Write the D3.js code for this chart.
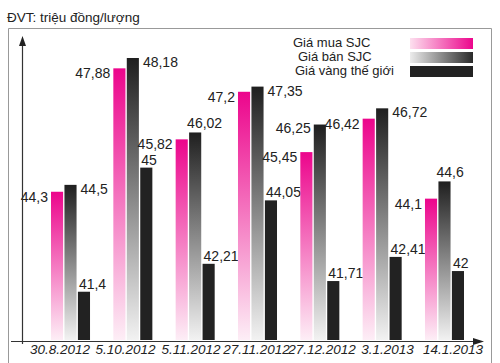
<!DOCTYPE html>
<html>
<head>
<meta charset="utf-8">
<title>Gia vang</title>
<style>
  body { margin: 0; background: #fff; }
  text { font-family: "Liberation Sans", Arial, sans-serif; fill: #222; }
</style>
</head>
<body>
<script src="https://d3js.org/d3.v7.min.js"></script>
<div id="chart"></div>
<script>
var dates = ["30.8.2012", "5.10.2012", "5.11.2012", "27.11.2012", "27.12.2012", "3.1.2013", "14.1.2013"];
var giaMua = [44.3, 47.88, 45.82, 47.2, 45.45, 46.42, 44.1];
var giaBan = [44.5, 48.18, 46.02, 47.35, 46.25, 46.72, 44.6];
var giaTheGioi = [41.4, 45, 42.21, 44.05, 41.71, 42.41, 42];
var seriesNames = ["Giá mua SJC", "Giá bán SJC", "Giá vàng thế giới"];
// where the "ban" label sits relative to its bar
var banLabelPos = ["right", "right", "above", "right", "left", "right", "above"];

var width = 500, height = 363;
var svg = d3.select("#chart").append("svg").attr("width", width).attr("height", height);
var defs = svg.append("defs");

function grad(id, x2, y2, c1, c2) {
    var g = defs.append("linearGradient").attr("id", id)
        .attr("x1", 0).attr("y1", 0).attr("x2", x2).attr("y2", y2);
    g.append("stop").attr("offset", "0%").attr("stop-color", c1);
    g.append("stop").attr("offset", "100%").attr("stop-color", c2);
}
grad("gMua", 0, 1, "#ec058c", "#fdeef6");
grad("gBan", 0, 1, "#1f1f1f", "#f2f2f2");
grad("lMua", 1, 0, "#fde0ef", "#ec058c");
grad("lBan", 1, 0, "#ececec", "#2a2a2a");

var fills = ["url(#gMua)", "url(#gBan)", "#222"];
var legendFills = ["url(#lMua)", "url(#lBan)", "#222"];

// frame
svg.append("path").attr("d", "M8.5,368V28.5H491.5V368")
    .attr("fill", "none").attr("stroke", "#999").attr("stroke-width", 1);

svg.append("text").attr("x", 7).attr("y", 22).attr("font-size", 13.5).text("ĐVT: triệu đồng/lượng");

var x0 = d3.scaleBand().domain(dates).range([51, 464]).paddingInner(0.374).paddingOuter(0);
var x1 = d3.scaleBand().domain(d3.range(3)).range([0, x0.bandwidth()]).paddingInner(0.1);
var y = d3.scaleLinear().domain([40, 48]).range([340, 64.2]);
var xLab = d3.scalePoint().domain(dates).range([60, 453]);

var rows = dates.map(function(d, i) {
    return { date: d, i: i, vals: [giaMua[i], giaBan[i], giaTheGioi[i]] };
});

var groups = svg.selectAll("g.grp").data(rows).enter().append("g")
    .attr("class", "grp")
    .attr("transform", function(d) { return "translate(" + x0(d.date) + ",0)"; });

groups.selectAll("rect").data(function(d) { return d.vals; }).enter().append("rect")
    .attr("x", function(v, j) { return x1(j); })
    .attr("y", function(v) { return y(v); })
    .attr("width", x1.bandwidth())
    .attr("height", function(v) { return y(40) - y(v); })
    .attr("fill", function(v, j) { return fills[j]; });

function fmt(v) { return String(v).replace(".", ","); }

groups.each(function(d) {
    var g = d3.select(this);
    var bw = x1.bandwidth();
    // mua label: left of the pink bar
    g.append("text").attr("font-size", 14).attr("text-anchor", "end")
        .attr("x", x1(0) - 3).attr("y", y(d.vals[0]) + 10).text(fmt(d.vals[0]));
    // ban label
    var pos = banLabelPos[d.i], t = g.append("text").attr("font-size", 14).text(fmt(d.vals[1]));
    if (pos === "right") {
        t.attr("x", x1(1) + bw + 4).attr("y", y(d.vals[1]) + 9);
    } else if (pos === "left") {
        t.attr("text-anchor", "end").attr("x", x1(1) - 3).attr("y", y(d.vals[1]) + 8);
    } else {
        t.attr("x", x1(1) - 2).attr("y", y(d.vals[1]) - 4);
    }
    // the gioi label: above the black bar
    g.append("text").attr("font-size", 14)
        .attr("x", x1(2) + 1).attr("y", y(d.vals[2]) - 3).text(fmt(d.vals[2]));
});

// axes with arrows
svg.append("line").attr("x1", 22.5).attr("x2", 22.5).attr("y1", 344).attr("y2", 42)
    .attr("stroke", "#333").attr("stroke-width", 1.2);
svg.append("path").attr("d", "M22.5,36L19,46L26,46Z").attr("fill", "#222");
svg.append("line").attr("x1", 11).attr("x2", 478).attr("y1", 341.5).attr("y2", 341.5)
    .attr("stroke", "#333").attr("stroke-width", 1.2);
svg.append("path").attr("d", "M484,341.5L473,338L473,345Z").attr("fill", "#222");

svg.selectAll("text.date").data(dates).enter().append("text")
    .attr("class", "date")
    .attr("x", function(d) { return xLab(d); })
    .attr("y", 354)
    .attr("text-anchor", "middle")
    .attr("font-size", 13.5)
    .attr("font-style", "italic")
    .text(function(d) { return d; });

// legend
var legend = svg.append("g");
var legY = [38, 52, 66];
var legX = [293, 298, 295];
seriesNames.forEach(function(name, j) {
    legend.append("text").attr("x", legX[j]).attr("y", legY[j] + 9).attr("font-size", 13).text(name);
    legend.append("rect").attr("x", 410).attr("y", legY[j]).attr("width", 63).attr("height", 11)
        .attr("fill", legendFills[j]);
});
</script>
</body>
</html>
